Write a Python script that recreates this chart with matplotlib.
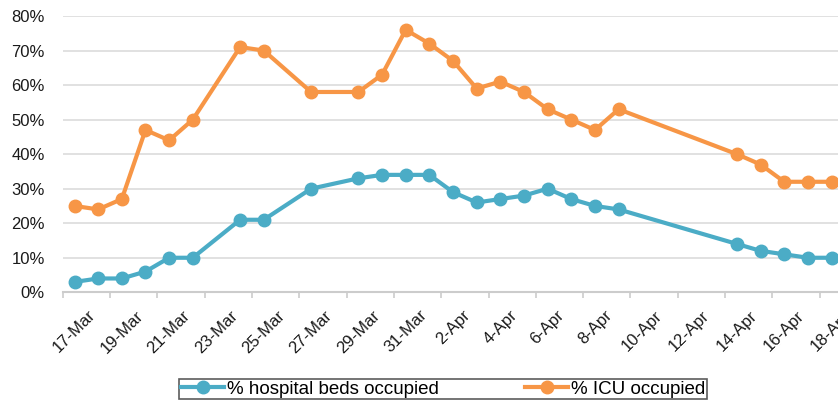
import matplotlib

matplotlib.use("Agg")
import matplotlib.pyplot as plt
import pandas as pd

plt.rcParams["font.family"] = ["Liberation Sans", "DejaVu Sans"]

# category axis: one slot per day
FIRST_DAY = "2020-03-17"
LAST_DAY = "2020-04-18"

# days with data (line skips over the missing days)
dates = [
    "2020-03-17", "2020-03-18", "2020-03-19", "2020-03-20", "2020-03-21",
    "2020-03-22", "2020-03-24", "2020-03-25", "2020-03-27", "2020-03-29",
    "2020-03-30", "2020-03-31", "2020-04-01", "2020-04-02", "2020-04-03",
    "2020-04-04", "2020-04-05", "2020-04-06", "2020-04-07", "2020-04-08",
    "2020-04-09", "2020-04-14", "2020-04-15", "2020-04-16", "2020-04-17",
    "2020-04-18",
]
hospital_pct = [3, 4, 4, 6, 10, 10, 21, 21, 30, 33, 34, 34, 34, 29, 26,
                27, 28, 30, 27, 25, 24, 14, 12, 11, 10, 10]
icu_pct = [25, 24, 27, 47, 44, 50, 71, 70, 58, 58, 63, 76, 72, 67, 59,
           61, 58, 53, 50, 47, 53, 40, 37, 32, 32, 32]

BLUE = "#4bacc6"
ORANGE = "#f79646"
GRID = "#d9d9d9"


def main():
    days = pd.date_range(FIRST_DAY, LAST_DAY, freq="D")
    start = days[0]
    x = [(pd.Timestamp(d) - start).days for d in dates]

    fig = plt.figure(figsize=(8.38, 4.04), dpi=100)
    # right end of the category axis runs past the figure edge, as in the source
    ax = fig.add_axes([0.0748, 0.2765, 0.9316, 0.6839])

    style = dict(linewidth=3.0, marker="o", markersize=9, clip_on=False,
                 solid_joinstyle="round")
    ax.plot(x, [v / 100 for v in hospital_pct], color=BLUE,
            label="% hospital beds occupied", zorder=3, **style)
    ax.plot(x, [v / 100 for v in icu_pct], color=ORANGE,
            label="% ICU occupied", zorder=3, **style)

    ax.set_xlim(-0.5, len(days) - 0.5)
    ax.set_ylim(0, 0.8)

    # y axis
    yt = [i / 10 for i in range(9)]
    ax.set_yticks(yt)
    ax.set_yticklabels([f"{int(round(t * 100))}%" for t in yt])
    ax.tick_params(axis="y", length=0, pad=13, labelsize=12, labelcolor="#1a1a1a")
    ax.grid(axis="y", color=GRID, linewidth=1.1, zorder=0)
    ax.set_axisbelow(True)

    # x axis: tick marks on slot boundaries, labels on every 2nd day
    ax.set_xticks([i - 0.5 for i in range(0, len(days) + 1, 2)])
    ax.set_xticklabels([])
    ax.tick_params(axis="x", which="major", length=4, width=1.2, color="#cccccc",
                   direction="out")
    lab_idx = list(range(0, len(days), 2))
    ax.set_xticks(lab_idx, minor=True)
    ax.set_xticklabels([f"{days[i].day}-{days[i].strftime('%b')}" for i in lab_idx],
                       minor=True, rotation=45, ha="center", va="top")
    ax.tick_params(axis="x", which="minor", length=0, pad=11, labelsize=12,
                   labelcolor="#1a1a1a")

    for s in ("top", "right", "left"):
        ax.spines[s].set_visible(False)
    ax.spines["bottom"].set_color("#cccccc")
    ax.spines["bottom"].set_linewidth(1.5)

    leg = fig.legend(loc="center", bbox_to_anchor=(0.529, 0.0371), ncol=2,
                     fontsize=13.5, frameon=True, fancybox=False, numpoints=1,
                     handlelength=2.3, handletextpad=0.15, columnspacing=4.6,
                     borderpad=0.1, borderaxespad=0)
    leg.get_frame().set_edgecolor("#333333")
    leg.get_frame().set_linewidth(1.2)

    fig.savefig("out.png", dpi=100)


if __name__ == "__main__":
    main()
